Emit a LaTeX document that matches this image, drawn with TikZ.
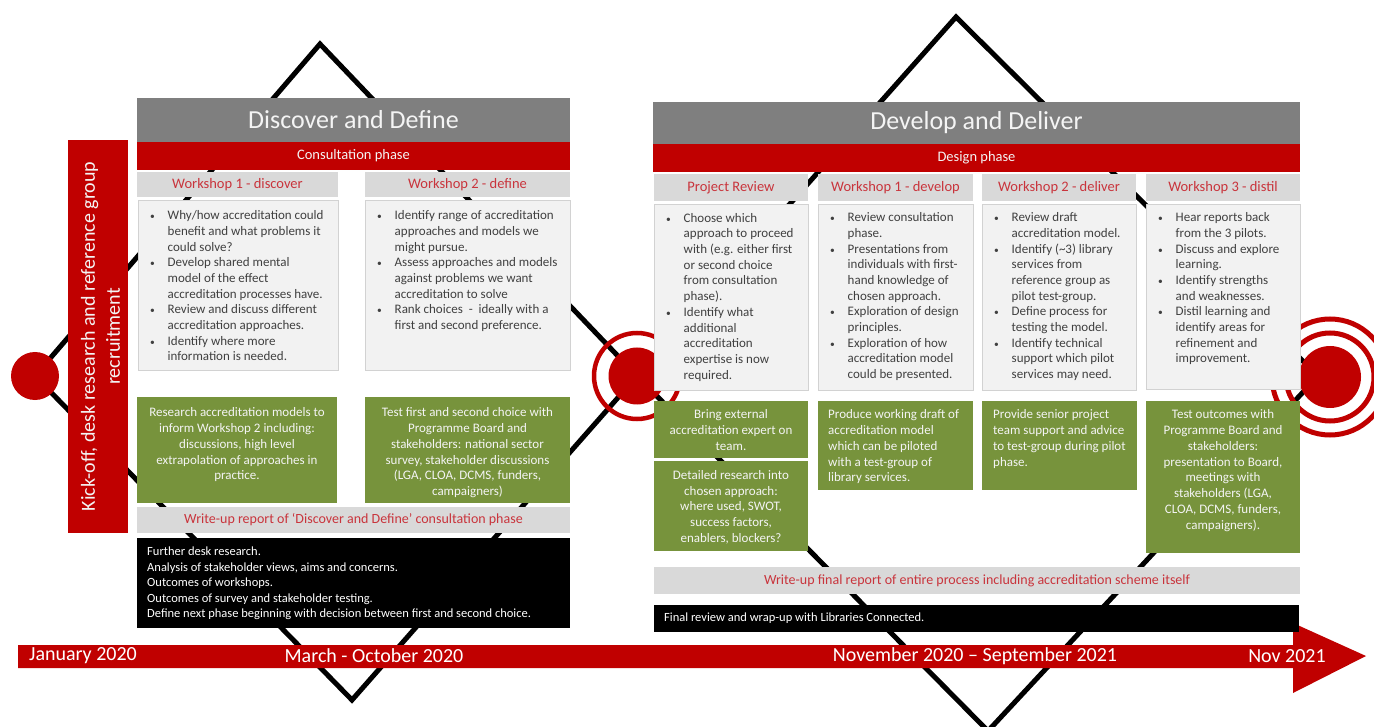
\documentclass[tikz,border=0pt]{standalone}
\usepackage{fontspec}
\setmainfont{Carlito}

\definecolor{darkred}{HTML}{C00000}
\definecolor{titlegray}{HTML}{7F7F7F}
\definecolor{headgray}{HTML}{D9D9D9}
\definecolor{bodygray}{HTML}{F2F2F2}
\definecolor{bodyline}{HTML}{D2D2D2}
\definecolor{olive}{HTML}{77933C}
\definecolor{headred}{HTML}{C9343C}
\definecolor{bodytext}{HTML}{404040}
\definecolor{offwhite}{HTML}{F4F4F4}

% list helpers: bullet column + text column, centred lines, left lines
\newcommand{\bulletlist}[1]{\begin{tabular}{@{}p{18.5pt}@{}l@{}}#1\end{tabular}}
\newcommand{\centrelines}[1]{\begin{tabular}{@{}c@{}}#1\end{tabular}}
\newcommand{\leftlines}[1]{\begin{tabular}{@{}l@{}}#1\end{tabular}}
\newcommand{\bi}{\hspace{1pt}{\fontsize{9.5}{9.5}\selectfont\textbullet}}

\begin{document}
\begin{tikzpicture}[x=1pt,y=-1pt,
  wh/.style 2 args={minimum width=#1pt, minimum height=#2pt},
  panel/.style={rectangle, inner sep=0pt, outer sep=0pt, anchor=north west},
  titlebar/.style={panel, fill=titlegray, text=offwhite, font=\fontsize{26}{30}\selectfont},
  phasebar/.style={panel, fill=darkred, text=offwhite, font=\fontsize{14.5}{17}\selectfont},
  wshead/.style={panel, fill=headgray, text=headred, font=\fontsize{14.5}{17}\selectfont},
  wsbody/.style={panel, fill=bodygray, draw=bodyline, line width=0.8pt},
  task/.style={panel, fill=olive},
  report/.style={panel, fill=headgray, text=headred, font=\fontsize{14}{17}\selectfont},
  closing/.style={panel, fill=black},
  bodytxt/.style={inner sep=0pt, anchor=north west, text=bodytext, font=\fontsize{13}{15.7}\selectfont},
  tasktxt/.style={inner sep=0pt, text=offwhite, font=\fontsize{13}{15.8}\selectfont},
  closetxt/.style={inner sep=0pt, anchor=north west, text=white, font=\fontsize{12.5}{15.6}\selectfont},
  track/.style={draw=black, line width=5pt, line join=miter},
  milestone/.style={circle, fill=darkred, inner sep=0pt, outer sep=0pt},
  ring/.style={circle, draw=darkred, inner sep=0pt, outer sep=0pt},
  datelabel/.style={inner sep=0pt, text=white, font=\fontsize{20}{24}\selectfont}
]
\useasboundingbox (0,0) rectangle (1374,727);
\clip (0,0) rectangle (1374,727);

% ---- phase diamonds ----
\coordinate (dAl) at (35,376);
\coordinate (dAt) at (320,44);
\coordinate (dAr) at (637,376);
\coordinate (dAb) at (352,700);
\coordinate (dBt) at (956,17);
\coordinate (dBr) at (1318,376);
\coordinate (dBb) at (988,731);
\coordinate (endpt) at (1330,377);
\draw[track] (dAl) -- (dAt) -- (dAr) -- (dAb) -- cycle;
\draw[track] (dAr) -- (dBt) -- (dBr) -- (dBb) -- cycle;

% ---- milestones ----
\node[milestone, minimum size=48pt] (mstart) at (dAl) {};
\node[ring, line width=4.5pt, minimum size=86pt] (mmidring) at (dAr) {};
\node[milestone, minimum size=57pt] (mmid) at (dAr) {};
\node[ring, line width=5pt, minimum size=116pt] (mendouter) at (endpt) {};
\node[ring, line width=5pt, minimum size=88pt] (mendinner) at (endpt) {};
\node[milestone, minimum size=62pt] (mend) at (endpt) {};

% ---- timeline ----
\fill[darkred] (18,645) -- (1293,645) -- (1293,623) -- (1366,656)
  -- (1293,693) -- (1293,668) -- (18,668) -- cycle;
\node[datelabel] (tjan) at (83,656) {January 2020};
\node[datelabel] (tmar) at (374,656) {March - October 2020};
\node[datelabel] (tnov) at (975,656) {November 2020 – September 2021};
\node[datelabel] (tend) at (1287,656) {Nov 2021};

% ---- kick-off bar ----
\node[panel, fill=darkred, wh={60}{393}] (kick) at (68,140) {};
\node[rotate=90, inner sep=0pt, text=offwhite, align=center,
  font=\fontsize{20}{25}\selectfont] (kicktxt) at ([xshift=2.5pt]kick.center)
  {Kick-off, desk research and reference group\\recruitment};

% ---- Discover and Define ----
\node[titlebar, wh={433}{44}] (ddtitle) at (137,98) {Discover and Define};
\node[phasebar, wh={433}{28}] (ddphase) at (137,142) {Consultation phase};
\node[wshead, wh={201}{25}] (w1h) at (137,172) {Workshop 1 - discover};
\node[wshead, wh={205}{25}] (w2h) at (365,172) {Workshop 2 - define};
\node[wsbody, wh={200}{170}] (w1b) at (138,200) {};
\node[wsbody, wh={205}{170}] (w2b) at (365,200) {};
\node[bodytxt] (w1t) at ([xshift=11pt,yshift=-8.5pt]w1b.north west) {\bulletlist{
 \bi & Why/how accreditation could\\
     & benefit and what problems it\\
     & could solve?\\
 \bi & Develop shared mental\\
     & model of the effect\\
     & accreditation processes have.\\
 \bi & Review and discuss different\\
     & accreditation approaches.\\
 \bi & Identify where more\\
     & information is needed.}};
\node[bodytxt] (w2t) at ([xshift=11pt,yshift=-8.5pt]w2b.north west) {\bulletlist{
 \bi & Identify range of accreditation\\
     & approaches and models we\\
     & might pursue.\\
 \bi & Assess approaches and models\\
     & against problems we want\\
     & accreditation to solve\\
 \bi & Rank choices\ \ -\ \ ideally with a\\
     & first and second preference.}};
\node[task, wh={200}{106}] (t1) at (137,397) {};
\node[task, wh={205}{106}] (t2) at (365,397) {};
\node[tasktxt, anchor=north] (t1t) at ([yshift=-8.5pt]t1.north) {\centrelines{
 Research accreditation models to\\
 inform Workshop 2 including:\\
 discussions, high level\\
 extrapolation of approaches in\\
 practice.}};
\node[tasktxt, anchor=north] (t2t) at ([yshift=-8.5pt]t2.north) {\centrelines{
 Test first and second choice with\\
 Programme Board and\\
 stakeholders: national sector\\
 survey, stakeholder discussions\\
 (LGA, CLOA, DCMS, funders,\\
 campaigners)}};
\node[report, wh={433}{26}] (ddrep) at (137,507)
  {Write-up report of ‘Discover and Define’ consultation phase};
\node[closing, wh={433}{90}] (ddclose) at (137,538) {};
\node[closetxt] (ddclt) at ([xshift=10pt,yshift=-6.4pt]ddclose.north west) {\leftlines{
 Further desk research.\\
 Analysis of stakeholder views, aims and concerns.\\
 Outcomes of workshops.\\
 Outcomes of survey and stakeholder testing.\\
 Define next phase beginning with decision between first and second choice.}};

% ---- Develop and Deliver ----
\node[titlebar, wh={647}{42}] (dltitle) at (653,102) {Develop and Deliver};
\node[phasebar, wh={647}{28}] (dlphase) at (653,144) {Design phase};
\node[wshead, wh={154}{27}] (prh) at (654,174) {Project Review};
\node[wshead, wh={155}{27}] (d1h) at (818,174) {Workshop 1 - develop};
\node[wshead, wh={154}{27}] (d2h) at (982,174) {Workshop 2 - deliver};
\node[wshead, wh={154}{27}] (d3h) at (1146,174) {Workshop 3 - distil};
\node[wsbody, wh={154}{186}] (prb) at (654,204) {};
\node[wsbody, wh={155}{186}] (d1b) at (818,204) {};
\node[wsbody, wh={154}{186}] (d2b) at (982,204) {};
\node[wsbody, wh={154}{185}] (d3b) at (1146,204) {};
\node[bodytxt] (prt) at ([xshift=11pt,yshift=-7pt]prb.north west) {\bulletlist{
 \bi & Choose which\\
     & approach to proceed\\
     & with (e.g. either first\\
     & or second choice\\
     & from consultation\\
     & phase).\\
 \bi & Identify what\\
     & additional\\
     & accreditation\\
     & expertise is now\\
     & required.}};
\node[bodytxt] (d1t) at ([xshift=11pt,yshift=-6.5pt]d1b.north west) {\bulletlist{
 \bi & Review consultation\\
     & phase.\\
 \bi & Presentations from\\
     & individuals with first-\\
     & hand knowledge of\\
     & chosen approach.\\
 \bi & Exploration of design\\
     & principles.\\
 \bi & Exploration of how\\
     & accreditation model\\
     & could be presented.}};
\node[bodytxt] (d2t) at ([xshift=11pt,yshift=-6.5pt]d2b.north west) {\bulletlist{
 \bi & Review draft\\
     & accreditation model.\\
 \bi & Identify (\textasciitilde3) library\\
     & services from\\
     & reference group as\\
     & pilot test-group.\\
 \bi & Define process for\\
     & testing the model.\\
 \bi & Identify technical\\
     & support which pilot\\
     & services may need.}};
\node[bodytxt] (d3t) at ([xshift=11pt,yshift=-6.5pt]d3b.north west) {\bulletlist{
 \bi & Hear reports back\\
     & from the 3 pilots.\\
 \bi & Discuss and explore\\
     & learning.\\
 \bi & Identify strengths\\
     & and weaknesses.\\
 \bi & Distil learning and\\
     & identify areas for\\
     & refinement and\\
     & improvement.}};
\node[task, wh={154}{57}] (pg1) at (654,401) {};
\node[task, wh={154}{90}] (pg2) at (654,461) {};
\node[task, wh={155}{89}] (g1) at (818,401) {};
\node[task, wh={155}{89}] (g2) at (982,401) {};
\node[task, wh={154}{152}] (g3) at (1146,401) {};
\node[tasktxt, anchor=north] (pg1t) at ([yshift=-6.5pt]pg1.north) {\centrelines{
 Bring external\\
 accreditation expert on\\
 team.}};
\node[tasktxt, anchor=north] (pg2t) at ([yshift=-7pt]pg2.north) {\centrelines{
 Detailed research into\\
 chosen approach:\\
 where used, SWOT,\\
 success factors,\\
 enablers, blockers?}};
\node[tasktxt, anchor=north west] (g1t) at ([xshift=10pt,yshift=-6.5pt]g1.north west) {\leftlines{
 Produce working draft of\\
 accreditation model\\
 which can be piloted\\
 with a test-group of\\
 library services.}};
\node[tasktxt, anchor=north west] (g2t) at ([xshift=11pt,yshift=-6.5pt]g2.north west) {\leftlines{
 Provide senior project\\
 team support and advice\\
 to test-group during pilot\\
 phase.}};
\node[tasktxt, anchor=north] (g3t) at ([yshift=-6.5pt]g3.north) {\centrelines{
 Test outcomes with\\
 Programme Board and\\
 stakeholders:\\
 presentation to Board,\\
 meetings with\\
 stakeholders (LGA,\\
 CLOA, DCMS, funders,\\
 campaigners).}};
\node[report, wh={646}{27}] (dlrep) at (654,567)
  {Write-up final report of entire process including accreditation scheme itself};
\node[closing, wh={645}{27}] (dlclose) at (654,605) {};
\node[closetxt, anchor=west] (dlclt) at ([xshift=10pt]dlclose.west)
  {Final review and wrap-up with Libraries Connected.};
\end{tikzpicture}
\end{document}
